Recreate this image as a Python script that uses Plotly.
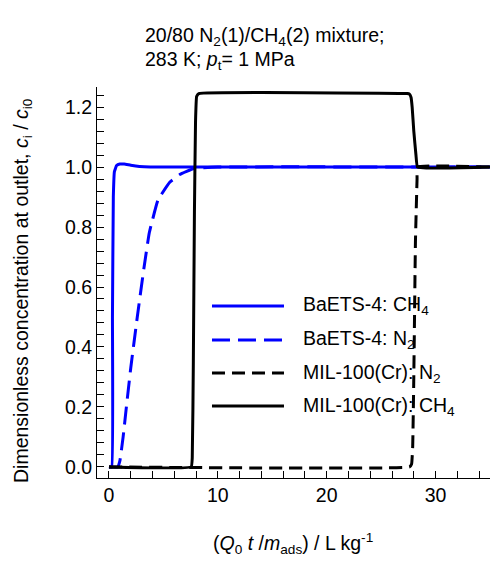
import plotly.graph_objects as go

# ---- data ----
baets_ch4_x = [0, 0.25, 0.32, 0.4, 0.5, 0.7, 1.0, 1.4, 2.0, 2.8, 3.8, 6.0, 35]
baets_ch4_y = [0, 0, 0.5, 0.9, 0.985, 1.005, 1.01, 1.01, 1.006, 1.002, 1.0, 1.0, 1.0]

baets_n2_x = [0, 0.8, 1.0, 1.3, 1.6, 2.0, 2.6, 3.2, 3.7, 4.5, 5.6, 6.5, 7.8, 10, 35]
baets_n2_y = [0, 0, 0.02, 0.1, 0.2, 0.33, 0.5, 0.66, 0.78, 0.89, 0.95, 0.975, 0.995, 1.0, 1.0]

mil_n2_x = [0, 27.6, 27.8, 27.9, 28.0, 28.07, 28.15, 28.3, 28.35, 35]
mil_n2_y = [0, 0, 0.01, 0.07, 0.3, 0.51, 0.75, 0.96, 1.0, 1.0]

mil_ch4_x = [0, 7.55, 7.65, 7.75, 7.85, 7.95, 8.05, 8.25, 27.4, 27.6, 27.75, 27.85, 28.0, 28.2, 28.35, 35]
mil_ch4_y = [0, 0, 0.03, 0.35, 0.85, 1.15, 1.235, 1.245, 1.245, 1.243, 1.232, 1.2, 1.12, 1.04, 1.0, 1.0]

legend_labels = ["BaETS-4: CH<sub>4</sub>", "BaETS-4: N<sub>2</sub>",
                 "MIL-100(Cr): N<sub>2</sub>", "MIL-100(Cr): CH<sub>4</sub>"]
series = [
    (baets_ch4_x, baets_ch4_y, "#0000FF", "solid"),
    (baets_n2_x, baets_n2_y, "#0000FF", "18px,8px"),
    (mil_n2_x, mil_n2_y, "#000000", "13px,7px"),
    (mil_ch4_x, mil_ch4_y, "#000000", "solid"),
]

FONT = "Liberation Sans, Arial, sans-serif"
FS = 19.5

fig = go.Figure()
for (x, y, c, d), name in zip(series, legend_labels):
    fig.add_trace(go.Scatter(x=x, y=y, mode="lines", name=name, showlegend=False,
                             line=dict(color=c, width=3, dash=d, shape="spline", smoothing=0.3)))

# manual legend
leg_y = [0.440, 0.353, 0.2685, 0.184]
for (x, y, c, d), name, ly in zip(series, legend_labels, leg_y):
    fig.add_shape(type="line", xref="paper", yref="paper", x0=0.2926, x1=0.4758, y0=ly, y1=ly,
                  line=dict(color=c, width=3, dash=d))
    fig.add_annotation(xref="paper", yref="paper", x=0.519, y=ly, text=name, showarrow=False,
                       xanchor="left", yanchor="middle", font=dict(size=FS, color="black", family=FONT))

# title lines
fig.add_annotation(xref="paper", yref="paper", x=(143 - 97) / 393, y=(478 - 36) / 391,
                   text="20/80 N<sub>2</sub>(1)/CH<sub>4</sub>(2) mixture;", showarrow=False,
                   xanchor="left", yanchor="middle", font=dict(size=FS, color="black", family=FONT))
fig.add_annotation(xref="paper", yref="paper", x=(143 - 97) / 393, y=(478 - 60) / 391,
                   text="283 K; <i>p</i><sub>t</sub>= 1 MPa", showarrow=False,
                   xanchor="left", yanchor="middle", font=dict(size=FS, color="black", family=FONT))

# axis titles
fig.add_annotation(xref="paper", yref="paper", x=(293 - 97) / 393, y=(478 - 543) / 391,
                   text="(<i>Q</i><sub>0</sub> <i>t</i> /<i>m</i><sub>ads</sub>) / L kg<sup>-1</sup>",
                   showarrow=False, xanchor="center", yanchor="middle",
                   font=dict(size=FS, color="black", family=FONT))
fig.add_annotation(xref="paper", yref="paper", x=(22 - 97) / 393, y=(478 - 291) / 391,
                   text="Dimensionless concentration at outlet, <i>c</i><sub>i</sub> / <i>c</i><sub>i0</sub>",
                   showarrow=False, textangle=-90, xanchor="center", yanchor="middle",
                   font=dict(size=FS, color="black", family=FONT))

fig.update_layout(
    width=490, height=562,
    margin=dict(l=97, r=0, t=87, b=84),
    paper_bgcolor="white", plot_bgcolor="white",
    font=dict(family=FONT, size=FS, color="black"),
    showlegend=False,
)
fig.update_xaxes(range=[-1.1, 35], showgrid=False, zeroline=False, showline=True,
                 linecolor="black", linewidth=1, ticks="inside", ticklen=7, tickcolor="black",
                 tick0=0, dtick=10, tickfont=dict(size=FS),
                 minor=dict(ticks="inside", ticklen=7, dtick=2, tick0=0, tickcolor="black"))
fig.update_yaxes(range=[-0.037, 1.267], showgrid=False, zeroline=False, showline=True,
                 linecolor="black", linewidth=1, ticks="inside", ticklen=7, tickcolor="black",
                 tick0=0, dtick=0.2, tickformat=".1f", tickfont=dict(size=FS),
                 minor=dict(ticks="inside", ticklen=7, dtick=0.04, tick0=0, tickcolor="black"))

fig.write_html("out.html")
